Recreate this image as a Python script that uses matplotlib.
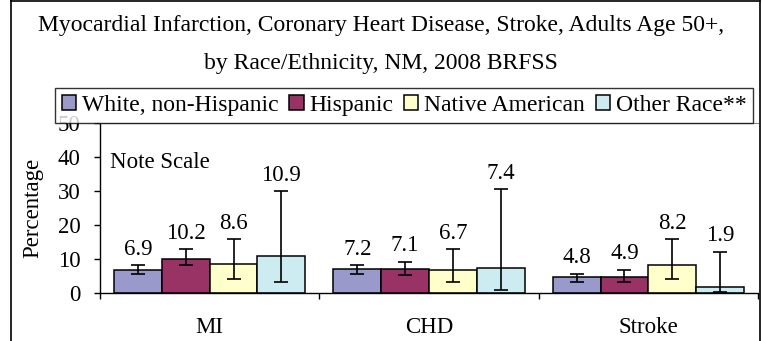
import numpy as np
import matplotlib.pyplot as plt
from matplotlib.lines import Line2D

plt.rcParams['font.family'] = ['Liberation Serif', 'DejaVu Serif']

categories = ['MI', 'CHD', 'Stroke']
groups = ['White, non-Hispanic', 'Hispanic', 'Native American', 'Other Race**']
colors = ['#9999CC', '#993366', '#FFFFCC', '#CCECF2']

# percentages per group, one value per category
values = {
    'White, non-Hispanic': [6.9, 7.2, 4.8],
    'Hispanic': [10.2, 7.1, 4.9],
    'Native American': [8.6, 6.7, 8.2],
    'Other Race**': [10.9, 7.4, 1.9],
}
# 95% confidence limits
ci_low = {
    'White, non-Hispanic': [5.8, 5.8, 3.4],
    'Hispanic': [8.2, 5.3, 3.4],
    'Native American': [4.1, 3.4, 4.1],
    'Other Race**': [3.4, 1.1, 0.5],
}
ci_high = {
    'White, non-Hispanic': [8.2, 8.2, 5.7],
    'Hispanic': [12.9, 9.3, 6.9],
    'Native American': [15.9, 12.9, 15.9],
    'Other Race**': [29.9, 30.6, 12.2],
}

fs = 16.5

fig = plt.figure(figsize=(7.62, 3.41), dpi=100)
W, H = 762, 341
ax = fig.add_axes([100 / W, (H - 293.3) / H, 658 / W, 170.3 / H])

x = np.arange(len(categories))
bw = 0.218
for i, g in enumerate(groups):
    pos = x + (i - 1.5) * bw
    v = np.array(values[g])
    lo = v - np.array(ci_low[g])
    hi = np.array(ci_high[g]) - v
    ax.bar(pos, v, bw, color=colors[i], edgecolor='black', linewidth=1.1,
           label=g, zorder=2)
    ax.errorbar(pos, v, yerr=[lo, hi], fmt='none', ecolor='black',
                elinewidth=1.2, capsize=5, capthick=1.2, zorder=3)
    for p, val, top in zip(pos, v, ci_high[g]):
        ax.annotate(f'{val:.1f}', (p, top), xytext=(0, 4),
                    textcoords='offset points', ha='center', va='bottom',
                    fontsize=fs)

ax.set_xlim(-0.5, 2.5)
ax.set_ylim(0, 50)
ax.set_yticks(range(0, 51, 10))
ax.set_xticks(x)
ax.set_xticklabels(categories)
ax.set_xticks([-0.5, 0.5, 1.5, 2.5], minor=True)
ax.tick_params(axis='x', which='major', length=0, pad=17, labelsize=fs)
ax.tick_params(axis='x', which='minor', length=4, direction='out', width=1)
ax.tick_params(axis='y', length=4, width=1, labelsize=fs, pad=10)
ax.spines['right'].set_visible(False)
ax.spines['top'].set_color('#888888')
ax.spines['left'].set_linewidth(1)
ax.spines['bottom'].set_linewidth(1)
ax.set_ylabel('Percentage', fontsize=fs)
ax.yaxis.set_label_coords(-57 / 658, 0.5)
ax.text(0.015, 0.77, 'Note Scale', transform=ax.transAxes, fontsize=fs,
        va='center', ha='left')

# chart frame
for xs, ys in [([11, 11], [0, 341]), ([11, 760], [1, 1]), ([760, 760], [1, 341])]:
    fig.add_artist(Line2D(np.array(xs) / W, 1 - np.array(ys) / H,
                          color='black', linewidth=1.2))

fig.text(381 / W, 1 - 25 / H,
         'Myocardial Infarction, Coronary Heart Disease, Stroke, Adults Age 50+,',
         ha='center', va='center', fontsize=17)
fig.text(381 / W, 1 - 63 / H, 'by Race/Ethnicity, NM, 2008 BRFSS',
         ha='center', va='center', fontsize=17)

leg = fig.legend(loc='upper left', bbox_to_anchor=(55 / W, 1 - 88 / H),
                 ncol=4, fontsize=17, frameon=True, fancybox=False,
                 handlelength=0.6, handleheight=0.6, handletextpad=0.25,
                 columnspacing=0.45, borderpad=0.3, borderaxespad=0)
leg.get_frame().set_edgecolor('black')
leg.get_frame().set_linewidth(1)

fig.savefig('out.png', dpi=100)
